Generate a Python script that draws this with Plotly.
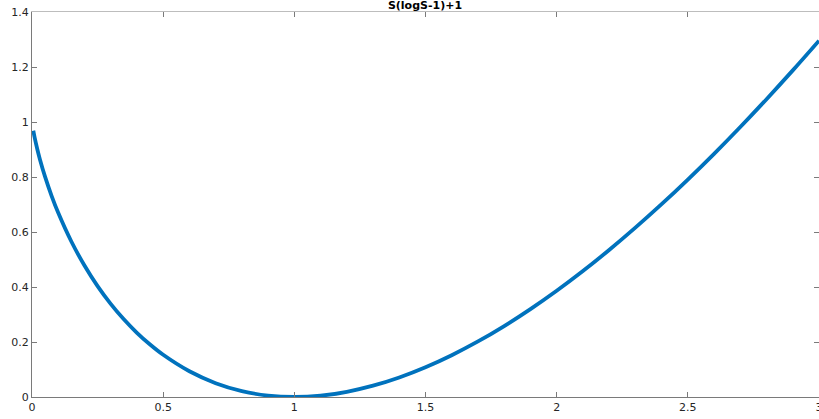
import plotly.graph_objects as go

# Sample points of S(log S - 1) + 1 over (0, 3]
s_vals = [0.005, 0.01, 0.02, 0.03, 0.05, 0.075, 0.1, 0.15, 0.2, 0.25, 0.3, 0.35,
          0.4, 0.45, 0.5, 0.6, 0.7, 0.8, 0.9, 1.0, 1.1, 1.2, 1.3, 1.4, 1.5, 1.6,
          1.7, 1.8, 1.9, 2.0, 2.1, 2.2, 2.3, 2.4, 2.5, 2.6, 2.7, 2.8, 2.9, 3.0]
f_vals = [0.9685, 0.9439, 0.9018, 0.8648, 0.8002, 0.7307, 0.6697, 0.5654, 0.4781,
          0.4034, 0.3388, 0.2826, 0.2335, 0.1907, 0.1534, 0.0935, 0.0503, 0.0215,
          0.0052, 0.0, 0.0048, 0.0188, 0.0411, 0.0711, 0.1082, 0.1520, 0.2020,
          0.2580, 0.3196, 0.3863, 0.4580, 0.5346, 0.6157, 0.7011, 0.7907, 0.8843,
          0.9818, 1.0830, 1.1877, 1.2958]

x_ticks = [0, 0.5, 1, 1.5, 2, 2.5, 3]
x_tick_text = ["0", "0.5", "1", "1.5", "2", "2.5", "3"]
y_ticks = [0, 0.2, 0.4, 0.6, 0.8, 1.0, 1.2, 1.4]
y_tick_text = ["0", "0.2", "0.4", "0.6", "0.8", "1", "1.2", "1.4"]

FONT = "DejaVu Sans"
AXIS_DARK = "#7a7a7a"
AXIS_LIGHT = "#bdbdbd"

fig = go.Figure()
fig.add_trace(go.Scatter(
    x=s_vals, y=f_vals, mode="lines",
    line=dict(color="#0072BD", width=3.8, shape="spline"),
    showlegend=False, hoverinfo="skip",
))
# invisible trace to activate the mirrored top/right axes
fig.add_trace(go.Scatter(x=[0], y=[0], xaxis="x2", yaxis="y2", mode="markers",
                         marker=dict(opacity=0), showlegend=False, hoverinfo="skip"))

common = dict(showgrid=False, zeroline=False, ticks="inside", ticklen=5, tickwidth=1,
              automargin=False)

fig.update_layout(
    width=819, height=419,
    margin=dict(l=32, r=0, t=12, b=22, autoexpand=False),
    paper_bgcolor="white", plot_bgcolor="white",
    font=dict(family=FONT, size=11, color="#262626"),
    title=dict(text="<b>S(logS-1)+1</b>", x=425 / 819, xanchor="center",
               y=1 - 5 / 419, yanchor="middle",
               font=dict(family=FONT, size=11, color="#000000")),
    xaxis=dict(range=[0, 3], tickvals=x_ticks, ticktext=x_tick_text,
               showline=True, linecolor=AXIS_DARK, linewidth=1, tickcolor=AXIS_DARK,
               ticklabeloverflow="allow", **common),
    yaxis=dict(range=[0, 1.4], tickvals=y_ticks, ticktext=y_tick_text,
               showline=True, linecolor=AXIS_DARK, linewidth=1, tickcolor=AXIS_DARK,
               **common),
    xaxis2=dict(overlaying="x", side="top", range=[0, 3], tickvals=x_ticks,
                showticklabels=False, showline=True, linecolor=AXIS_LIGHT,
                tickcolor=AXIS_DARK, **common),
    yaxis2=dict(overlaying="y", side="right", range=[0, 1.4], tickvals=y_ticks,
                showticklabels=False, showline=True, linecolor=AXIS_LIGHT,
                tickcolor=AXIS_DARK, **common),
)

fig.write_html("out.html")
